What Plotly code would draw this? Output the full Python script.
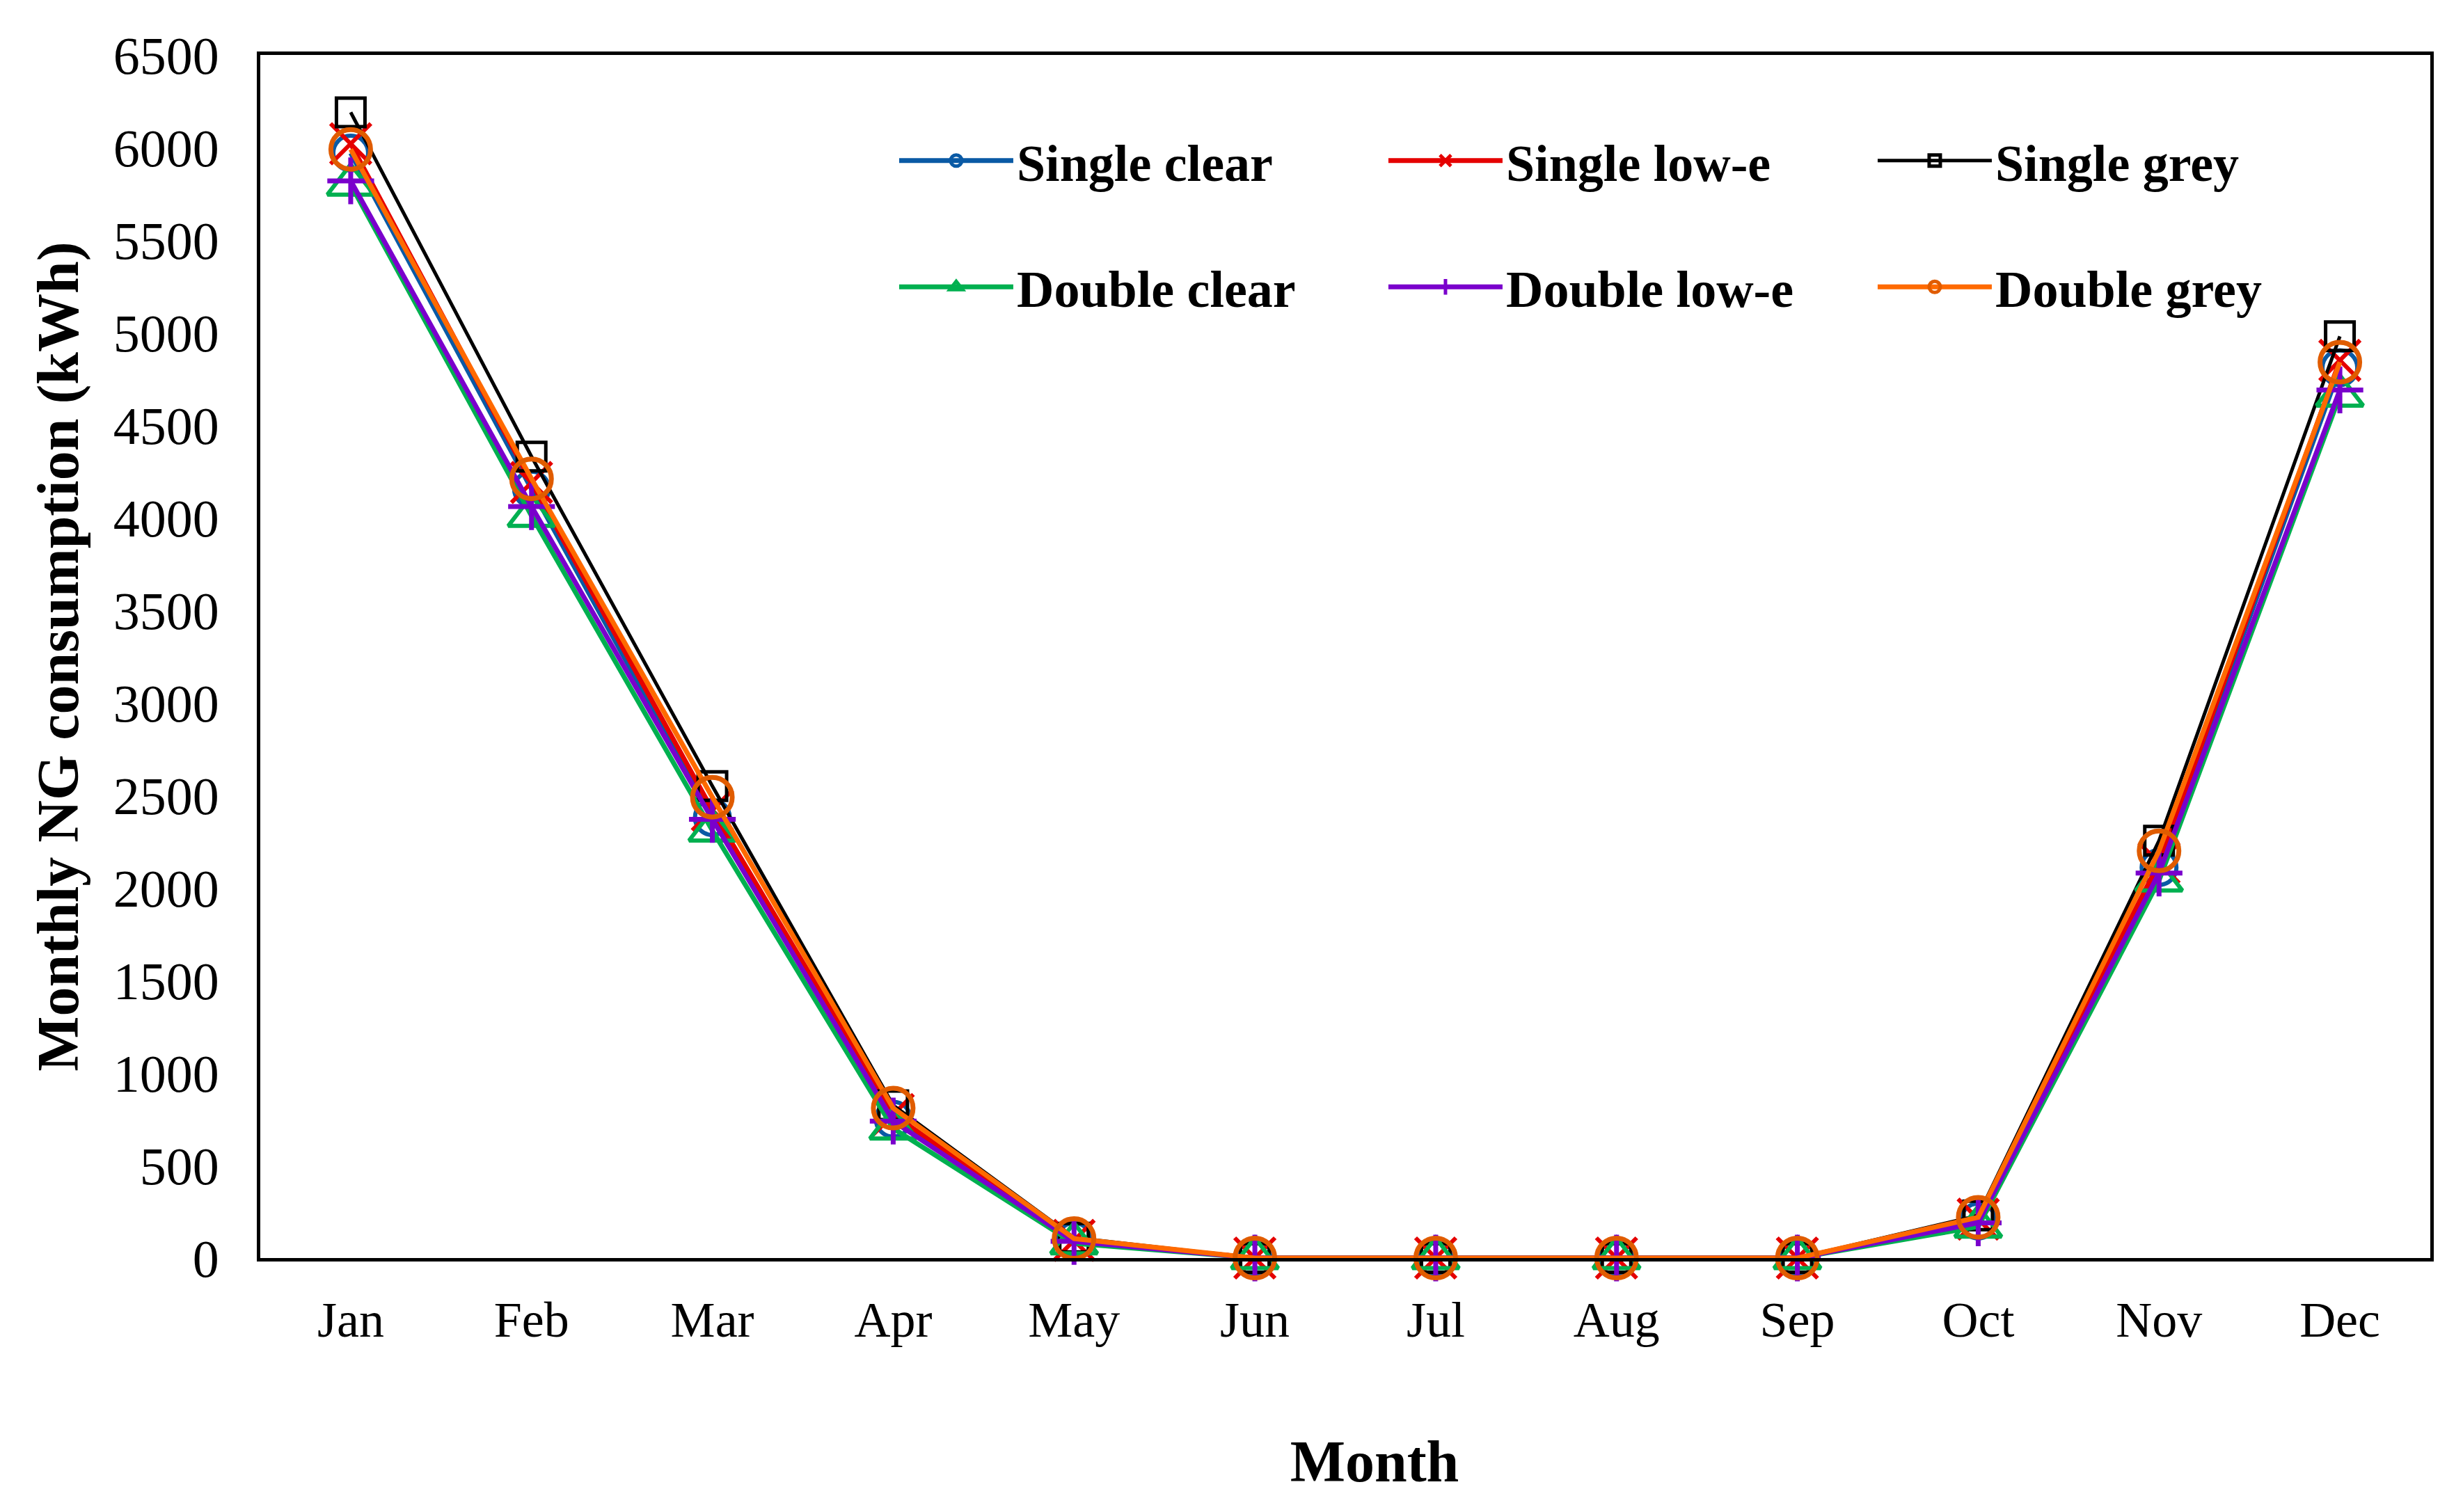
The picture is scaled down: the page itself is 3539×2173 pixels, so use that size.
import plotly.graph_objects as go

months = ["Jan", "Feb", "Mar", "Apr", "May", "Jun", "Jul", "Aug", "Sep", "Oct", "Nov", "Dec"]
y_ticks = [0, 500, 1000, 1500, 2000, 2500, 3000, 3500, 4000, 4500, 5000, 5500, 6000, 6500]

single_clear = [5970, 4155, 2380, 750, 95, 0, 0, 0, 0, 200, 2110, 4810]
single_lowe = [6020, 4190, 2420, 775, 95, 0, 0, 0, 0, 210, 2135, 4850]
single_grey = [6190, 4330, 2550, 825, 110, 0, 0, 0, 0, 230, 2255, 4980]
double_clear = [5800, 4010, 2310, 700, 80, 0, 0, 0, 0, 170, 2040, 4660]
double_lowe = [5820, 4060, 2370, 740, 90, 0, 0, 0, 0, 190, 2080, 4690]
double_grey = [5990, 4210, 2490, 810, 105, 0, 0, 0, 0, 220, 2200, 4840]

FONT = "Liberation Serif"

series = [
    ("Single clear", single_clear, "#0A5AA5", "#0A5AA5", "circle-open", 50, 6, "legend"),
    ("Single low-e", single_lowe, "#E50000", "#E50000", "x-thin-open", 58, 6, "legend"),
    ("Single grey", single_grey, "#000000", "#000000", "square-open", 41, 5, "legend"),
    ("Double clear", double_clear, "#00B050", "#00B050", "triangle-up-open", 58, 6, "legend2"),
    ("Double low-e", double_lowe, "#7A00CC", "#7A00CC", "cross-thin-open", 48, 7, "legend2"),
    ("Double grey", double_grey, "#FF6A00", "#E05C00", "circle-open", 57, 7, "legend2"),
]

fig = go.Figure()
for name, vals, lc, mc, sym, size, mw, leg in series:
    fig.add_trace(go.Scatter(
        x=months, y=vals, name=name, mode="lines+markers",
        line=dict(color=lc, width=7 if lc != "#000000" else 5),
        marker=dict(symbol=sym, size=size, color=mc, line=dict(color=mc, width=mw)),
        cliponaxis=False, legend=leg,
    ))

legend_common = dict(
    orientation="h", entrywidth=524, entrywidthmode="pixels", itemwidth=164,
    itemsizing="trace",
    font=dict(family=FONT, size=74, color="black", weight="bold"),
    bgcolor="rgba(0,0,0,0)", xanchor="left", yanchor="middle",
)

fig.update_layout(
    width=3531, height=2165,
    margin=dict(l=366, r=47, t=71, b=365),
    paper_bgcolor="white", plot_bgcolor="white",
    font=dict(family=FONT, color="black"),
    legend=dict(x=0.2928, y=0.912, **legend_common),
    legend2=dict(x=0.2928, y=0.807, **legend_common),
    xaxis=dict(
        type="category", categoryorder="array", categoryarray=months,
        range=[-0.5, 11.5], showgrid=False, zeroline=False,
        showline=True, linecolor="black", linewidth=5, mirror=True,
        ticks="", ticklabelstandoff=22,
        tickfont=dict(family=FONT, size=72, color="black"),
        title=dict(text="&nbsp;&nbsp;&nbsp;&nbsp;Month", standoff=135,
                   font=dict(family=FONT, size=84, color="black", weight="bold")),
    ),
    yaxis=dict(
        range=[0, 6500], tickvals=y_ticks, showgrid=False, zeroline=False,
        showline=True, linecolor="black", linewidth=5, mirror=True,
        ticks="", ticklabelstandoff=39,
        tickfont=dict(family=FONT, size=76, color="black"),
        title=dict(text="Monthly NG consumption (kWh)", standoff=24,
                   font=dict(family=FONT, size=84, color="black", weight="bold")),
    ),
)

fig.write_html("out.html")
